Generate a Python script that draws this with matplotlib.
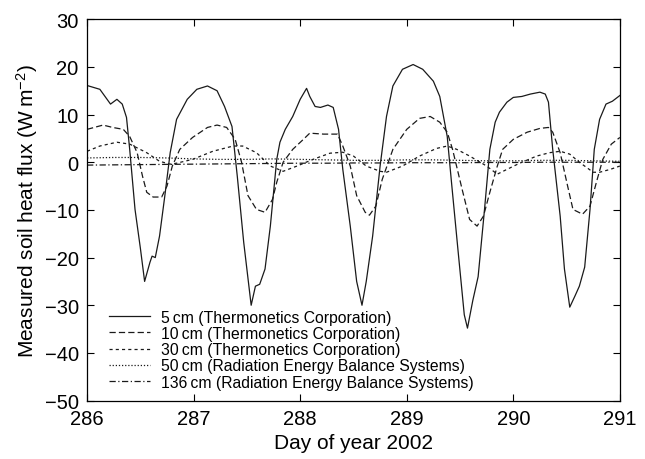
import matplotlib
matplotlib.use("Agg")
import matplotlib.pyplot as plt

plt.rcParams['font.family'] = ['Liberation Sans', 'DejaVu Sans']
plt.rcParams['mathtext.default'] = 'regular'

# 5 cm (Thermonetics)
day_5 = [286.00, 286.12, 286.22, 286.28, 286.33, 286.37, 286.40, 286.45, 286.50, 286.54,
         286.59, 286.61, 286.64, 286.68, 286.73, 286.78, 286.84, 286.94, 287.03, 287.13,
         287.22, 287.29, 287.36, 287.41, 287.47, 287.54, 287.58, 287.62, 287.67, 287.72,
         287.78, 287.81, 287.86, 287.93, 288.00, 288.06, 288.09, 288.14, 288.19, 288.26,
         288.31, 288.36, 288.40, 288.47, 288.53, 288.58, 288.62, 288.68, 288.75, 288.81,
         288.87, 288.96, 289.06, 289.15, 289.25, 289.31, 289.38, 289.42, 289.48, 289.54,
         289.57, 289.62, 289.67, 289.73, 289.78, 289.83, 289.87, 289.94, 290.00, 290.08,
         290.16, 290.25, 290.30, 290.33, 290.37, 290.44, 290.48, 290.53, 290.58, 290.62,
         290.67, 290.72, 290.76, 290.81, 290.87, 290.93, 291.00]
flux_5 = [16.1, 15.3, 12.2, 13.2, 12.2, 9.4, 2.7, -9.9, -18.0, -25.0,
          -21.0, -19.7, -20.0, -15.5, -7.0, 2.0, 9.0, 13.2, 15.3, 16.0,
          15.0, 11.7, 7.5, -3.0, -16.8, -30.0, -26.0, -25.6, -22.4, -13.4,
          0.6, 4.2, 6.9, 9.6, 13.2, 15.5, 13.8, 11.7, 11.5, 12.0,
          11.5, 6.9, -1.5, -13.4, -25.0, -30.0, -25.0, -15.5, -0.8, 9.6,
          16.0, 19.5, 20.5, 19.5, 17.0, 13.8, 5.4, -4.2, -18.2, -32.0,
          -34.8, -29.0, -24.0, -9.9, 2.7, 8.4, 10.5, 12.6, 13.6, 13.8,
          14.3, 14.7, 14.3, 12.6, 2.7, -11.3, -22.4, -30.4, -28.0, -26.0,
          -22.0, -9.9, 2.7, 9.0, 12.2, 12.8, 14.0]

# 10 cm (Thermonetics)
day_10 = [286.00, 286.15, 286.24, 286.34, 286.40, 286.47, 286.52, 286.56, 286.62, 286.70,
          286.75, 286.80, 286.87, 286.99, 287.13, 287.22, 287.31, 287.39, 287.45, 287.51,
          287.59, 287.67, 287.74, 287.78, 287.84, 287.93, 288.03, 288.09, 288.22, 288.35,
          288.40, 288.47, 288.53, 288.61, 288.65, 288.71, 288.77, 288.87, 289.00, 289.12,
          289.22, 289.31, 289.38, 289.43, 289.52, 289.59, 289.66, 289.72, 289.78, 289.85,
          289.90, 290.00, 290.13, 290.25, 290.33, 290.37, 290.44, 290.51, 290.56, 290.65,
          290.72, 290.78, 290.84, 290.92, 291.00]
flux_10 = [6.9, 7.8, 7.3, 6.9, 5.4, 2.0, -2.9, -6.3, -7.3, -7.3,
           -5.0, -0.8, 2.7, 5.2, 7.3, 7.8, 7.3, 4.8, 0.0, -7.0,
           -9.9, -10.5, -7.8, -4.2, 0.0, 2.7, 4.8, 6.1, 5.9, 5.9,
           3.4, -0.8, -7.0, -10.5, -11.1, -9.2, -3.6, 2.7, 6.9, 9.2,
           9.6, 8.4, 6.3, 2.7, -5.7, -12.0, -13.4, -11.3, -6.3, -0.8,
           2.7, 4.8, 6.3, 7.1, 7.3, 6.3, 2.0, -5.0, -9.9, -10.9,
           -9.2, -4.2, 0.6, 3.8, 5.2]

# 30 cm (Thermonetics)
day_30 = [286.00, 286.12, 286.28, 286.40, 286.56, 286.68, 286.78, 286.84, 286.99, 287.18,
          287.37, 287.46, 287.59, 287.72, 287.84, 287.97, 288.12, 288.28, 288.40, 288.50,
          288.62, 288.75, 288.81, 288.96, 289.12, 289.28, 289.38, 289.47, 289.59, 289.75,
          289.85, 289.94, 290.06, 290.22, 290.34, 290.44, 290.53, 290.62, 290.75, 290.81,
          290.91, 291.00]
flux_30 = [2.3, 3.4, 4.2, 3.8, 2.0, 0.2, -0.4, -0.2, 0.6, 2.3,
           3.4, 3.4, 2.0, -0.8, -1.9, -0.8, 0.6, 1.9, 2.1, 1.3,
           -0.8, -1.9, -2.1, -0.8, 1.3, 2.9, 3.4, 2.7, 1.3, -0.8,
           -2.5, -1.5, -0.2, 1.3, 2.0, 2.3, 1.7, 0.0, -2.1, -2.1,
           -1.5, -0.8]

# 50 cm and 136 cm (REBS), read every quarter day
day_deep = [286.00, 286.25, 286.50, 286.75, 287.00, 287.25, 287.50, 287.75, 288.00, 288.25,
            288.50, 288.75, 289.00, 289.25, 289.50, 289.75, 290.00, 290.25, 290.50, 290.75,
            291.00]
flux_50 = [0.9, 1.0, 1.0, 0.9, 0.7, 0.6, 0.6, 0.7, 0.6, 0.5,
           0.4, 0.4, 0.5, 0.5, 0.4, 0.3, 0.3, 0.4, 0.4, 0.3, 0.2]
flux_136 = [-0.6, -0.55, -0.5, -0.45, -0.4, -0.35, -0.3, -0.25, -0.2, -0.2,
            -0.15, -0.15, -0.1, -0.1, -0.1, -0.05, -0.05, 0.0, 0.0, 0.0, 0.0]

labels = [
    "5\u2009cm (Thermonetics Corporation)",
    "10\u2009cm (Thermonetics Corporation)",
    "30\u2009cm (Thermonetics Corporation)",
    "50\u2009cm (Radiation Energy Balance Systems)",
    "136\u2009cm (Radiation Energy Balance Systems)",
]

fig = plt.figure(figsize=(6.45, 4.6), dpi=100)
ax = fig.add_axes([0.135, 0.127, 0.826, 0.829])

col = '#1a1a1a'
lw = 0.9
ax.plot(day_5, flux_5, color=col, lw=lw, ls='-', label=labels[0])
ax.plot(day_10, flux_10, color=col, lw=lw, ls=(0, (5, 2.5)), label=labels[1])
ax.plot(day_30, flux_30, color=col, lw=lw, ls=(0, (2.5, 2.5)), label=labels[2])
ax.plot(day_deep, flux_50, color=col, lw=lw, ls=(0, (1, 1.5)), label=labels[3])
ax.plot(day_deep, flux_136, color=col, lw=lw, ls=(0, (5, 2, 1, 2)), label=labels[4])

ax.set_xlim(286, 291)
ax.set_ylim(-50, 30)
ax.set_xticks(range(286, 292))
ax.set_yticks(range(-50, 31, 10))
ax.tick_params(direction='in', top=True, right=True, length=5, width=0.8, labelsize=14.5, pad=6)
for s in ax.spines.values():
    s.set_linewidth(0.9)

ax.set_xlabel("Day of year 2002", fontsize=15, labelpad=4)
ax.set_ylabel("Measured soil heat flux (W\u2009m$^{-2}$)", fontsize=15, labelpad=3)

ax.legend(loc='lower left', bbox_to_anchor=(0.02, 0.0), frameon=False, fontsize=11.3,
          handlelength=2.6, handletextpad=0.7, labelspacing=0.08, borderpad=0.2)

fig.savefig("out.png", dpi=100)
